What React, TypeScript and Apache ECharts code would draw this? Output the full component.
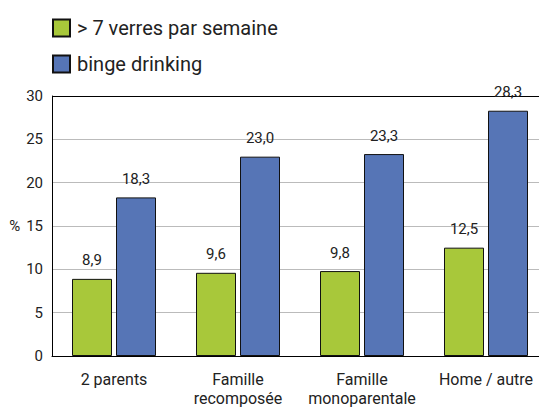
import React, { useEffect, useRef } from "react";
import * as echarts from "echarts";

const categories = ["2 parents", "Famille\nrecomposée", "Famille\nmonoparentale", "Home / autre"];
const seriesNames = ["> 7 verres par semaine", "binge drinking"];
const weeklyValues = [8.9, 9.6, 9.8, 12.5];
const bingeValues = [18.3, 23.0, 23.3, 28.3];
const yTicks = [0, 5, 10, 15, 20, 25, 30];

const FONT = "Roboto, 'DejaVu Sans Condensed', sans-serif";

export default function App() {
  const ref = useRef<HTMLDivElement>(null);
  useEffect(() => {
    document.body.style.margin = "0";
    if (!ref.current) return;
    const chart = echarts.init(ref.current, null, { renderer: "svg" });
    const fmt = (p: any) => p.value.toFixed(1).replace(".", ",");
    const labelCfg = {
      show: true,
      position: "top",
      distance: 11,
      formatter: fmt,
      fontFamily: FONT,
      fontSize: 15,
      color: "#222",
    };
    chart.setOption({
      animation: false,
      backgroundColor: "#fff",
      textStyle: { fontFamily: FONT },
      legend: {
        orient: "vertical",
        left: 52,
        top: 18,
        padding: 0,
        itemWidth: 17,
        itemHeight: 17,
        itemGap: 16,
        icon: "rect",
        textStyle: { fontFamily: FONT, fontSize: 20, color: "#222", padding: [0, 0, 0, 2] },
        data: seriesNames,
      },
      grid: { left: 52, right: 0, top: 96, bottom: 56, containLabel: false },
      xAxis: {
        type: "category",
        data: categories,
        axisLine: { show: true, lineStyle: { color: "#000", width: 1 } },
        axisTick: { show: false },
        axisLabel: {
          fontFamily: FONT,
          fontSize: 16,
          color: "#222",
          margin: 14,
          lineHeight: 19,
          interval: 0,
        },
      },
      yAxis: {
        type: "value",
        min: yTicks[0],
        max: yTicks[yTicks.length - 1],
        interval: 5,
        name: "%",
        nameLocation: "middle",
        nameRotate: 0,
        nameGap: 31,
        nameTextStyle: { fontFamily: FONT, fontSize: 15, color: "#222" },
        axisLine: { show: true, lineStyle: { color: "#000", width: 1 } },
        axisTick: { show: false },
        axisLabel: { fontFamily: FONT, fontSize: 15, color: "#222", margin: 9 },
        splitLine: {
          show: true,
          lineStyle: {
            color: ["#bbb", "#bbb", "#bbb", "#bbb", "#bbb", "#bbb", "#000"],
            width: 1,
          },
        },
      },
      series: [
        {
          name: seriesNames[0],
          type: "bar",
          data: weeklyValues,
          barWidth: 40,
          barGap: "10%",
          itemStyle: { color: "#A8C83A", borderColor: "#111", borderWidth: 1 },
          label: labelCfg,
        },
        {
          name: seriesNames[1],
          type: "bar",
          data: bingeValues,
          barWidth: 40,
          barGap: "10%",
          itemStyle: { color: "#5675B6", borderColor: "#111", borderWidth: 1 },
          label: labelCfg,
        },
      ],
    });
    return () => chart.dispose();
  }, []);
  return (
    <div style={{ width: 539, height: 412, overflow: "hidden", position: "relative" }}>
      <div ref={ref} style={{ width: 548, height: 412 }} />
    </div>
  );
}
